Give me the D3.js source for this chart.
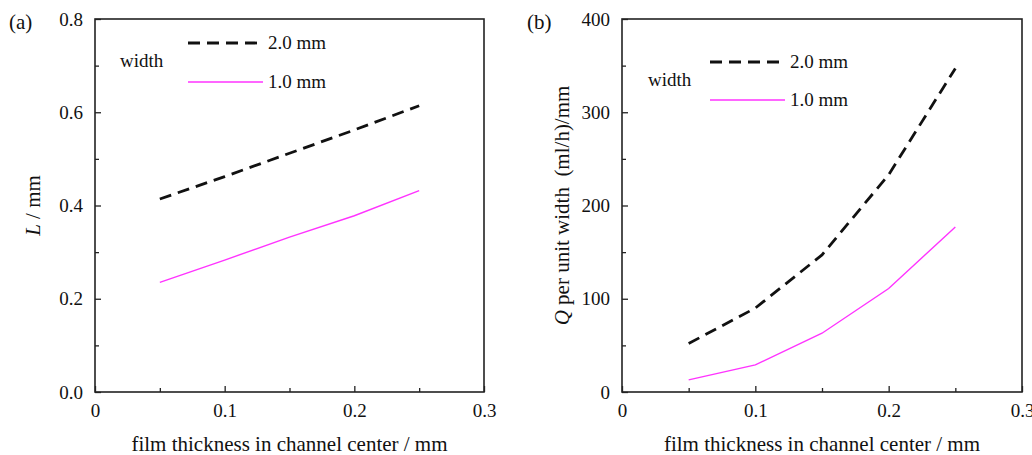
<!DOCTYPE html>
<html><head><meta charset="utf-8">
<script src="https://cdn.jsdelivr.net/npm/d3@7"></script>
<style>
body{margin:0;background:#fff;}
svg text{font-family:"Liberation Serif","Times New Roman",serif !important;fill:#111;}
</style></head>
<body>
<svg id="chart" width="1032" height="455"></svg>
<script>
// ---- data ----
const xTicks = [0, 0.1, 0.2, 0.3];
const xMinorTicks = [0.05, 0.15, 0.25];
const xTickLabels = ["0", "0.1", "0.2", "0.3"];

const aX = [0.05, 0.1, 0.135, 0.2, 0.25];
const aWide = [0.414, 0.462, 0.497, 0.562, 0.614];   // 2.0 mm
const aX1 = [0.05, 0.1, 0.15, 0.2, 0.25];
const aNarrow = [0.235, 0.283, 0.332, 0.378, 0.432]; // 1.0 mm
const aYTicks = [0, 0.2, 0.4, 0.6, 0.8];
const aYMinor = [0.1, 0.3, 0.5, 0.7];
const aYTickLabels = ["0.0", "0.2", "0.4", "0.6", "0.8"];

const bX = [0.05, 0.1, 0.15, 0.2, 0.25];
const bWide = [52, 90, 147, 233, 347];
const bNarrow = [13, 29, 63, 111, 177];
const bYTicks = [0, 100, 200, 300, 400];
const bYMinor = [50, 150, 250, 350];
const bYTickLabels = ["0", "100", "200", "300", "400"];

const legendLabels = ["2.0 mm", "1.0 mm"];
const legendTitle = "width";
const xTitle = "film thickness in channel center / mm";

const FONT = '"Liberation Serif","Times New Roman",serif';
const svg = d3.select("#chart");

function panel(opts){
  const {left, right, top, bottom, yMax, yTicks, yMinor, yLabels, series, letter, letterX,
         titleX, titleParts, leg} = opts;
  const x = d3.scaleLinear().domain([0, 0.3]).range([left, right]);
  const y = d3.scaleLinear().domain([0, yMax]).range([bottom, top]);
  const g = svg.append("g");

  // frame
  g.append("rect").attr("x", left).attr("y", top).attr("width", right-left).attr("height", bottom-top)
    .attr("fill", "none").attr("stroke", "#222").attr("stroke-width", 1.6);

  // x axis ticks (inward)
  const xa = d3.axisBottom(x).tickValues(xTicks).tickSizeInner(-6).tickSizeOuter(0)
    .tickFormat((d,i)=>xTickLabels[i]).tickPadding(12);
  const gx = g.append("g").attr("transform", `translate(0,${bottom})`).call(xa)
    .attr("font-family", FONT).attr("font-size", 19);
  gx.select(".domain").remove();
  gx.selectAll("line").attr("stroke", "#222").attr("stroke-width", 1.3);
  gx.selectAll("text").style("font-size", "19px").style("font-family", FONT);
  const xm = d3.axisBottom(x).tickValues(xMinorTicks).tickSizeInner(-4).tickSizeOuter(0).tickFormat("");
  const gxm = g.append("g").attr("transform", `translate(0,${bottom})`).call(xm);
  gxm.select(".domain").remove();
  gxm.selectAll("line").attr("stroke", "#222").attr("stroke-width", 1.3);

  // y axis ticks
  const ya = d3.axisLeft(y).tickValues(yTicks).tickSizeInner(-6).tickSizeOuter(0)
    .tickFormat((d,i)=>yLabels[i]).tickPadding(12);
  const gy = g.append("g").attr("transform", `translate(${left},0)`).call(ya)
    .attr("font-family", FONT).attr("font-size", 19);
  gy.select(".domain").remove();
  gy.selectAll("line").attr("stroke", "#222").attr("stroke-width", 1.3);
  gy.selectAll("text").style("font-size", "19px").style("font-family", FONT);
  const ym = d3.axisLeft(y).tickValues(yMinor).tickSizeInner(-4).tickSizeOuter(0).tickFormat("");
  const gym = g.append("g").attr("transform", `translate(${left},0)`).call(ym);
  gym.select(".domain").remove();
  gym.selectAll("line").attr("stroke", "#222").attr("stroke-width", 1.3);

  // lines
  const line = d3.line().x(d=>x(d[0])).y(d=>y(d[1]));
  series.forEach(s=>{
    g.append("path").datum(s.xs.map((v,i)=>[v, s.ys[i]]))
      .attr("d", line).attr("fill", "none").attr("stroke", s.color)
      .attr("stroke-width", s.w).attr("stroke-dasharray", s.dash || null);
  });

  // letter
  g.append("text").attr("x", letterX).attr("y", 29).style("font-size", "21px").style("font-family", FONT).text(letter);

  // x title
  g.append("text").attr("x", (left+right)/2).attr("y", 451).attr("text-anchor", "middle")
    .style("font-size", "21px").style("font-family", FONT).text(xTitle);

  // y title
  const t = g.append("text").attr("transform", `translate(${titleX},${(top+bottom)/2}) rotate(-90)`)
    .attr("text-anchor", "middle").style("font-size", "21px").style("font-family", FONT);
  titleParts.forEach(p=>{
    t.append("tspan").style("font-style", p.italic ? "italic" : "normal").attr("xml:space","preserve").text(p.t);
  });

  // legend
  g.append("text").attr("x", leg.wx).attr("y", leg.wy).style("font-size", "19px").style("font-family", FONT).text(legendTitle);
  series.forEach((s,i)=>{
    const ly = leg.ly[i];
    g.append("line").attr("x1", leg.x1).attr("x2", leg.x2).attr("y1", ly).attr("y2", ly)
      .attr("stroke", s.color).attr("stroke-width", s.w).attr("stroke-dasharray", s.dash || null);
    g.append("text").attr("x", leg.x2 + 5).attr("y", ly + 6).style("font-size", "19px").style("font-family", FONT).text(legendLabels[i]);
  });
}

panel({left:95, right:484, top:19, bottom:392, yMax:0.8, yTicks:aYTicks, yMinor:aYMinor, yLabels:aYTickLabels,
  series:[{xs:aX, ys:aWide, color:"#111", w:2.8, dash:"12,7"},
          {xs:aX1, ys:aNarrow, color:"#ff33ff", w:1.4}],
  letter:"(a)", letterX:9, titleX:40,
  titleParts:[{t:"L", italic:true},{t:" / mm"}],
  leg:{wx:120, wy:67, x1:188, x2:263, ly:[43, 82]}
});

panel({left:622, right:1022, top:19, bottom:392, yMax:400, yTicks:bYTicks, yMinor:bYMinor, yLabels:bYTickLabels,
  series:[{xs:bX, ys:bWide, color:"#111", w:2.8, dash:"12,7"},
          {xs:bX, ys:bNarrow, color:"#ff33ff", w:1.4}],
  letter:"(b)", letterX:527, titleX:569,
  titleParts:[{t:"Q", italic:true},{t:" per unit width  (ml/h)/mm"}],
  leg:{wx:648, wy:86, x1:710, x2:785, ly:[62, 100]}
});
</script>
</body></html>
